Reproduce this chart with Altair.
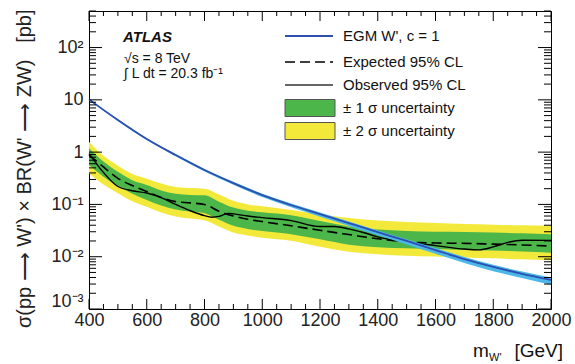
import altair as alt
import pandas as pd

# ---------------- data ----------------
mass_egm = [400, 500, 600, 700, 800, 900, 1000, 1100, 1200, 1300, 1400,
            1500, 1600, 1700, 1800, 1900, 2000]
egm_xsec = [10.2, 4.1, 1.78, 0.88, 0.455, 0.256, 0.151, 0.0975, 0.0655,
            0.044, 0.0296, 0.020, 0.0134, 0.0090, 0.0064, 0.0047, 0.0036]
egm_lo = [9.8, 3.93, 1.70, 0.835, 0.428, 0.238, 0.138, 0.088, 0.058, 0.0388,
          0.0258, 0.0172, 0.0114, 0.0076, 0.0053, 0.0039, 0.0029]
egm_hi = [10.5, 4.25, 1.85, 0.92, 0.478, 0.270, 0.160, 0.104, 0.070, 0.047,
          0.0318, 0.0216, 0.0146, 0.0099, 0.0070, 0.0052, 0.0040]

mass_exp = [400, 450, 500, 550, 600, 650, 700, 750, 800, 850, 900, 950, 1000,
            1100, 1200, 1300, 1400, 1500, 1600, 1700, 1800, 1900, 2000]
exp_limit = [0.88, 0.52, 0.315, 0.23, 0.177, 0.136, 0.113, 0.107, 0.100, 0.074,
             0.060, 0.052, 0.047, 0.039, 0.032, 0.0265, 0.022, 0.0192, 0.0183,
             0.018, 0.0174, 0.0168, 0.016]
yellow_hi = [1.58, 0.85, 0.55, 0.38, 0.31, 0.25, 0.215, 0.205, 0.20, 0.155,
             0.117, 0.10, 0.092, 0.078, 0.064, 0.055, 0.049, 0.046, 0.044,
             0.042, 0.041, 0.040, 0.039]
green_hi = [1.18, 0.66, 0.42, 0.29, 0.235, 0.185, 0.160, 0.152, 0.150, 0.113,
            0.087, 0.076, 0.071, 0.062, 0.048, 0.038, 0.033, 0.031, 0.030,
            0.0298, 0.029, 0.028, 0.027]
green_lo = [0.57, 0.34, 0.225, 0.16, 0.122, 0.095, 0.080, 0.073, 0.068, 0.051,
            0.039, 0.034, 0.031, 0.027, 0.0215, 0.017, 0.0152, 0.0145, 0.0140,
            0.0135, 0.0131, 0.0126, 0.0119]
yellow_lo = [0.39, 0.24, 0.163, 0.115, 0.09, 0.070, 0.059, 0.054, 0.050,
             0.038, 0.029, 0.0255, 0.023, 0.0202, 0.0155, 0.0125, 0.0112,
             0.0104, 0.0101, 0.0097, 0.0093, 0.0089, 0.0086]

mass_obs = [400, 450, 500, 550, 600, 650, 700, 750, 800, 825, 850, 880, 900,
            950, 1000, 1100, 1200, 1250, 1300, 1350, 1400, 1500, 1600, 1700,
            1750, 1800, 1850, 1900, 2000]
obs_limit = [0.94, 0.41, 0.22, 0.183, 0.165, 0.135, 0.100, 0.076, 0.061,
             0.057, 0.059, 0.067, 0.066, 0.060, 0.056, 0.049, 0.0378, 0.0378,
             0.034, 0.029, 0.024, 0.019, 0.0163, 0.0140, 0.0135, 0.0154,
             0.0188, 0.0207, 0.0205]

x_tick_labels = [400, 600, 800, 1000, 1200, 1400, 1600, 1800, 2000]
x_minor = [400 + 50 * i for i in range(33) if (400 + 50 * i) % 200 != 0]
y_major = [0.001, 0.01, 0.1, 1, 10, 100]
y_minor = [k * 10.0 ** e for e in range(-3, 3) for k in range(2, 10)
           if k * 10.0 ** e <= 500]

legend_labels = ["EGM W', c = 1", "Expected 95% CL", "Observed 95% CL",
                 "\u00b1 1 \u03c3 uncertainty", "\u00b1 2 \u03c3 uncertainty"]

# ---------------- style ----------------
FONT = "Liberation Sans"
YELLOW = "#f3e93a"
GREEN = "#4cb64a"
BLUE = "#2c4fb0"
LBLUE = "#4cb8ea"
W, H = 462, 298
NB = "\u00a0"

xs = alt.Scale(domain=[400, 2000], nice=False, zero=False)
ys = alt.Scale(type="log", domain=[0.001, 500], nice=False)

xaxis = alt.Axis(values=x_tick_labels, format="d", ticks=False, tickSize=0,
                 domain=False, grid=False, labelFont=FONT, labelFontSize=18,
                 labelColor="#222", labelPadding=2, title=" ",
                 labelFlush=False, labelOverlap=False)
ytitle = ("\u03c3(pp" + NB + "\u27f6" + NB + "W')" + NB + "\u00d7" + NB +
          "BR(W'" + NB + "\u27f6" + NB + "ZW)" + NB * 3 + "[pb]")
yaxis = alt.Axis(values=y_major, ticks=False, tickSize=0, domain=False,
                 grid=False, labelFont=FONT, labelFontSize=18,
                 labelColor="#222", labelPadding=6, labelOverlap=False,
                 labelExpr=("datum.value < 0.005 ? '10\u207b\u00b3' : "
                            "datum.value < 0.05 ? '10\u207b\u00b2' : "
                            "datum.value < 0.5 ? '10\u207b\u00b9' : "
                            "datum.value < 5 ? '1' : "
                            "datum.value < 50 ? '10' : '10\u00b2'"),
                 title=ytitle,
                 titleFont=FONT, titleFontSize=20, titleFontWeight="normal",
                 titleColor="#222", titleAngle=270, titleAlign="right",
                 titleBaseline="alphabetic", titleX=-59, titleY=-2,
                 labelFlush=True, labelFlushOffset=1)

band_df = pd.DataFrame({"m": mass_exp, "exp": exp_limit,
                        "ylo": yellow_lo, "yhi": yellow_hi,
                        "glo": green_lo, "ghi": green_hi})
egm_df = pd.DataFrame({"m": mass_egm, "v": egm_xsec, "lo": egm_lo, "hi": egm_hi})
obs_df = pd.DataFrame({"m": mass_obs, "v": obs_limit})

X = alt.X("m:Q", scale=xs)


def Y(field):
    return alt.Y(field, scale=ys)


yellow = alt.Chart(band_df).mark_area(color=YELLOW, interpolate="monotone").encode(
    x=alt.X("m:Q", scale=xs, axis=xaxis),
    y=alt.Y("ylo:Q", scale=ys, axis=yaxis),
    y2="yhi:Q")
green = alt.Chart(band_df).mark_area(color=GREEN, interpolate="monotone").encode(
    x=X, y=Y("glo:Q"), y2="ghi:Q")
expected = alt.Chart(band_df).mark_line(color="black", strokeWidth=1.6,
                                         strokeDash=[10, 5],
                                         interpolate="monotone").encode(
    x=X, y=Y("exp:Q"))
observed = alt.Chart(obs_df).mark_line(color="black", strokeWidth=1.4,
                                        interpolate="monotone").encode(
    x=X, y=Y("v:Q"))
egm_band = alt.Chart(egm_df).mark_area(color=LBLUE, interpolate="monotone").encode(
    x=X, y=Y("lo:Q"), y2="hi:Q")
egm_line = alt.Chart(egm_df).mark_line(color=BLUE, strokeWidth=1.8,
                                        interpolate="monotone").encode(
    x=X, y=Y("v:Q"))


# ---------------- inward ticks on all four sides ----------------
def yticks(vals, length):
    d = pd.DataFrame({"v": vals})
    left = alt.Chart(d).mark_rule(color="black", strokeWidth=1).encode(
        y=Y("v:Q"), x=alt.value(0), x2=alt.value(length))
    right = alt.Chart(d).mark_rule(color="black", strokeWidth=1).encode(
        y=Y("v:Q"), x=alt.value(W), x2=alt.value(W - length))
    return [left, right]


def xticks(vals, length):
    d = pd.DataFrame({"m": vals})
    bottom = alt.Chart(d).mark_rule(color="black", strokeWidth=1).encode(
        x=X, y=alt.value(H), y2=alt.value(H - length))
    top = alt.Chart(d).mark_rule(color="black", strokeWidth=1).encode(
        x=X, y=alt.value(0), y2=alt.value(length))
    return [bottom, top]


ticks = (yticks(y_major, 13) + yticks(y_minor, 7) +
         xticks(x_tick_labels, 10) + xticks(x_minor, 5))


# ---------------- text annotations ----------------
def label(text, x, y, size=15, align="left", baseline="alphabetic",
          weight="normal", style="normal", color="#111"):
    return alt.Chart(pd.DataFrame({"t": [text]})).mark_text(
        font=FONT, fontSize=size, align=align, baseline=baseline,
        fontWeight=weight, fontStyle=style, color=color).encode(
        x=alt.value(x), y=alt.value(y), text="t:N")


annotations = [
    label("ATLAS", 34, 31, size=15, weight="bold", style="italic"),
    label("\u221as = 8 TeV", 35, 52, size=14),
    label("\u222b L dt = 20.3 fb\u207b\u00b9", 35, 67, size=14),
    label("m", 384, 346, size=19),
    label("W'", 400, 350, size=11),
    label("[GeV]", 474, 346, size=19, align="right"),
]

# ---------------- legend (drawn by hand, ROOT style) ----------------
LX0, LX1, LT = 196, 244, 254
rows = [25, 51, 74, 97, 120]


def hline(y, color, width, dash=None):
    kw = dict(color=color, strokeWidth=width)
    if dash:
        kw["strokeDash"] = dash
    return alt.Chart(pd.DataFrame({"t": [0]})).mark_rule(**kw).encode(
        x=alt.value(LX0), x2=alt.value(LX1), y=alt.value(y))


def box(y, color):
    return alt.Chart(pd.DataFrame({"t": [0]})).mark_rect(
        color=color, stroke="#555", strokeWidth=1).encode(
        x=alt.value(LX0), x2=alt.value(LX1 + 2),
        y=alt.value(y - 8.5), y2=alt.value(y + 8.5))


legend = [
    hline(rows[0], BLUE, 1.8),
    hline(rows[1], "black", 1.6, [10, 5]),
    hline(rows[2], "#333", 1.4),
    box(rows[3], GREEN),
    box(rows[4], YELLOW),
]
legend += [label(t, LT, r, size=15, baseline="middle")
           for t, r in zip(legend_labels, rows)]

chart = alt.layer(
    yellow, green, expected, observed, egm_band, egm_line,
    *ticks, *annotations, *legend
).properties(
    width=W, height=H,
    autosize=alt.AutoSizeParams(type="none"),
    padding={"left": 89, "top": 11, "right": 24, "bottom": 55},
    background="white",
).configure_view(stroke="black", strokeWidth=1)

chart.save("out.html", embed_options={"renderer": "svg", "actions": False})
